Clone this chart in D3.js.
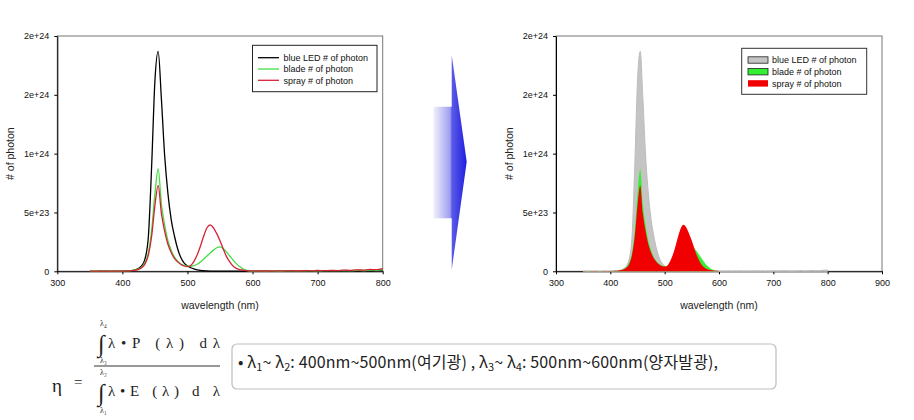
<!DOCTYPE html>
<html><head><meta charset="utf-8">
<script src="https://cdn.jsdelivr.net/npm/d3@7"></script>
<style>
html,body{margin:0;padding:0;background:#fff;}
svg{display:block;}
</style></head>
<body>
<svg id="c" width="914" height="420"></svg>
<script>
// ---- data (photon counts in units of 1e23) ----
const wavelengths = [350,360,370,380,390,400,
  405,410,415,420,425,430,435,440,445,450,455,460,465,470,475,480,485,490,495,500,
  505,510,515,520,525,530,535,540,545,550,555,560,565,570,575,580,585,590,595,600,
  610,620,630,640,650,660,670,680,690,700,710,720,730,740,750,760,770,780,790,800];
const blueLED = [0,0,0.01,0,0.01,0.01,
  0.02,0.03,0.06,0.12,0.25,0.5,1.1,3.0,9.0,16.2,18.7,14.6,9.8,6.6,4.4,3.0,1.9,1.15,0.7,0.45,
  0.3,0.2,0.13,0.08,0.05,0.03,0.02,0.02,0.01,0.01,0.01,0.01,0.01,0.01,0.01,0.01,0.01,0.01,0.01,0.01,
  0.01,0.02,0.01,0.02,0.01,0.02,0.03,0.01,0.02,0.03,0.02,0.04,0.02,0.03,0.05,0.03,0.06,0.04,0.08,0.1];
const blade = [0.01,0.02,0.01,0.02,0.01,0.02,
  0.03,0.04,0.07,0.12,0.2,0.38,0.78,1.6,3.5,6.6,8.7,5.7,3.9,2.6,1.8,1.2,0.85,0.62,0.5,0.44,
  0.43,0.48,0.6,0.8,1.05,1.3,1.55,1.8,2.0,2.07,1.92,1.65,1.3,0.95,0.65,0.4,0.22,0.1,0.04,0.02,
  0.02,0.02,0.03,0.02,0.03,0.04,0.03,0.04,0.05,0.04,0.05,0.06,0.05,0.07,0.06,0.08,0.07,0.1,0.09,0.14];
const spray = [0.02,0.01,0.02,0.01,0.02,0.02,
  0.03,0.04,0.06,0.1,0.17,0.32,0.65,1.4,3.0,5.6,7.3,4.9,3.4,2.3,1.6,1.1,0.8,0.58,0.45,0.4,
  0.5,0.85,1.4,2.15,3.0,3.7,3.95,3.7,3.2,2.6,1.9,1.25,0.8,0.45,0.25,0.15,0.1,0.06,0.04,0.03,
  0.02,0.03,0.02,0.04,0.03,0.05,0.03,0.06,0.04,0.07,0.05,0.08,0.06,0.1,0.08,0.12,0.1,0.16,0.14,0.22];
const UNIT = 1e23;
const seriesNames = ["blue LED # of photon","blade # of photon","spray # of photon"];
const yTickValues = [0,5e23,1e24,1.5e24,2e24];
const yTickLabels = ["0","5e+23","1e+24","2e+24","2e+24"];
const xTicksLeft = [300,400,500,600,700,800];
const xTicksRight = [300,400,500,600,700,800,900];

const lineColors = ["#000000","#44dd44","#d42236"];
const fillColors = ["#c4c4c4","#33f033","#f00000"];
const seriesData = [blueLED, blade, spray];

const svg = d3.select("#c");
const FONT = "'Liberation Sans', Arial, sans-serif";

function drawChart(left, right, xMax, xTicks, filled){
  const top = 36, bottom = 271.3;
  const x = d3.scaleLinear().domain([300, xMax]).range([left, right]);
  const y = d3.scaleLinear().domain([0, 2e24]).range([bottom, top]);
  const g = svg.append("g");
  g.append("rect").attr("x", left).attr("y", top).attr("width", right-left).attr("height", bottom-top)
    .attr("fill","none").attr("stroke","#777").attr("stroke-width",1);
  const xa = g.append("g").attr("transform",`translate(0,${bottom})`)
    .call(d3.axisBottom(x).tickValues(xTicks).tickSize(3).tickSizeOuter(0).tickPadding(5).tickFormat(d3.format("d")));
  const ya = g.append("g").attr("transform",`translate(${left},0)`)
    .call(d3.axisLeft(y).tickValues(yTickValues).tickSize(3).tickSizeOuter(0).tickPadding(5)
      .tickFormat((d,i)=>yTickLabels[i]));
  [xa,ya].forEach(a=>{
    a.selectAll("text").style("font-family",FONT).style("font-size","9px").attr("fill","#111");
    a.select(".domain").attr("stroke","#000");
    a.selectAll(".tick line").attr("stroke","#000");
  });
  const pts = s => wavelengths.map((w,i)=>[w, s[i]*UNIT]);
  if (filled){
    const area = d3.area().x(d=>x(d[0])).y0(y(0)).y1(d=>y(d[1])).curve(d3.curveMonotoneX);
    seriesData.forEach((s,k)=>{
      const data = k === 0 ? pts(s) : pts(s).filter(d=>d[0] <= 600);
      g.append("path").datum(data).attr("d",area)
        .attr("fill",fillColors[k]).attr("stroke",k===0?"#bdbdbd":"none").attr("stroke-width",1);
    });
  } else {
    const line = d3.line().x(d=>x(d[0])).y(d=>y(d[1])).curve(d3.curveMonotoneX);
    seriesData.forEach((s,k)=>{
      g.append("path").datum(pts(s)).attr("d",line)
        .attr("fill","none").attr("stroke",lineColors[k]).attr("stroke-width",1.3);
    });
  }
  g.append("text").attr("x",(left+right)/2).attr("y",309).attr("text-anchor","middle")
    .style("font-family",FONT).style("font-size","10.5px").attr("fill","#222").text("wavelength (nm)");
  g.append("text").attr("transform",`translate(${left-43},${(top+bottom)/2}) rotate(-90)`)
    .attr("text-anchor","middle").style("font-family",FONT).style("font-size","10.5px").attr("fill","#222")
    .text("# of photon");
  return g;
}

// left chart
const gl = drawChart(57.3, 382.7, 800, xTicksLeft, false);
{
  const lx = 252.5, ly = 45.3, lw = 124.5, lh = 46.4;
  gl.append("rect").attr("x",lx).attr("y",ly).attr("width",lw).attr("height",lh)
    .attr("fill","#fff").attr("stroke","#222").attr("stroke-width",1);
  seriesNames.forEach((n,k)=>{
    const yy = 57.7 + k*11.3;
    gl.append("line").attr("x1",258).attr("x2",279).attr("y1",yy).attr("y2",yy)
      .attr("stroke",lineColors[k]).attr("stroke-width",1.3);
    gl.append("text").attr("x",283.5).attr("y",yy+3.2).style("font-family",FONT).style("font-size","9px")
      .attr("fill","#111").text(n);
  });
}
// right chart
const gr = drawChart(556, 882, 900, xTicksRight, true);
{
  const lx = 741.7, ly = 48.3, lw = 125, lh = 46;
  gr.append("rect").attr("x",lx).attr("y",ly).attr("width",lw).attr("height",lh)
    .attr("fill","#fff").attr("stroke","#333").attr("stroke-width",1);
  seriesNames.forEach((n,k)=>{
    const yy = 60 + k*11.7;
    gr.append("rect").attr("x",748).attr("y",yy-3.2).attr("width",20).attr("height",6.4)
      .attr("fill",fillColors[k]).attr("stroke",k<2?"#222":"none").attr("stroke-width",0.8);
    gr.append("text").attr("x",772).attr("y",yy+3.2).style("font-family",FONT).style("font-size","9px")
      .attr("fill","#111").text(n);
  });
}

// arrow between charts
const defs = svg.append("defs");
const grad = defs.append("linearGradient").attr("id","ag").attr("x1","0").attr("x2","1").attr("y1","0").attr("y2","0");
grad.append("stop").attr("offset","0").attr("stop-color","#f2f2fc");
grad.append("stop").attr("offset","0.5").attr("stop-color","#a0a0f0");
grad.append("stop").attr("offset","0.56").attr("stop-color","#5a5ae8");
grad.append("stop").attr("offset","1").attr("stop-color","#1e1ee0");
svg.append("path")
  .attr("d","M433.3,106.7 L451.7,106.7 L451.7,55 L466.7,161.7 L451.7,270 L451.7,218.3 L433.3,218.3 Z")
  .attr("fill","url(#ag)");

// formula
const SERIF = "'Liberation Serif','DejaVu Serif',serif";
const f = svg.append("g").style("font-family",SERIF).attr("fill","#222");
f.append("text").attr("x",52).attr("y",392).style("font-size","19px").text("η");
f.append("text").attr("x",74).attr("y",387).style("font-size","15px").text("=");
f.append("line").attr("x1",94).attr("x2",220).attr("y1",366).attr("y2",366).attr("stroke","#333").attr("stroke-width",1);
f.append("text").attr("x",98).attr("y",352).style("font-size","24px").text("∫");
f.append("text").attr("x",100).attr("y",326).style("font-size","8px").text("λ₄");
f.append("text").attr("x",100).attr("y",363).style("font-size","8px").text("λ₃");
f.append("text").attr("x",108).attr("y",348).style("font-size","15px").attr("textLength",112).attr("lengthAdjust","spacing").text("λ•P (λ) dλ");
f.append("text").attr("x",98).attr("y",401).style("font-size","24px").text("∫");
f.append("text").attr("x",100).attr("y",375).style("font-size","8px").text("λ₂");
f.append("text").attr("x",100).attr("y",413).style("font-size","8px").text("λ₁");
f.append("text").attr("x",108).attr("y",396).style("font-size","15px").attr("textLength",112).attr("lengthAdjust","spacing").text("λ•E (λ)  d λ");

// note box
svg.append("rect").attr("x",232).attr("y",344).attr("width",544).attr("height",45).attr("rx",5)
  .attr("fill","#fff").attr("stroke","#bdbdbd").attr("stroke-width",1.2);
const KFONT = "'Noto Sans CJK KR','Noto Sans',sans-serif";
const t = svg.append("text").attr("x",238).attr("y",368).style("font-family",KFONT).style("font-size","16px")
  .attr("fill","#222").attr("textLength",480).attr("lengthAdjust","spacing");
const parts = [["• λ",0],["1",1],["~ λ",0],["2",1],[": 400nm~500nm(여기광) , λ",0],["3",1],["~ λ",0],["4",1],[": 500nm~600nm(양자발광),",0]];
parts.forEach(([s,sub],i)=>{
  const ts = t.append("tspan").text(s);
  if (sub) ts.attr("dy",3).style("font-size","11px");
  else if (i>0) ts.attr("dy",-3);
});
</script>
</body></html>
